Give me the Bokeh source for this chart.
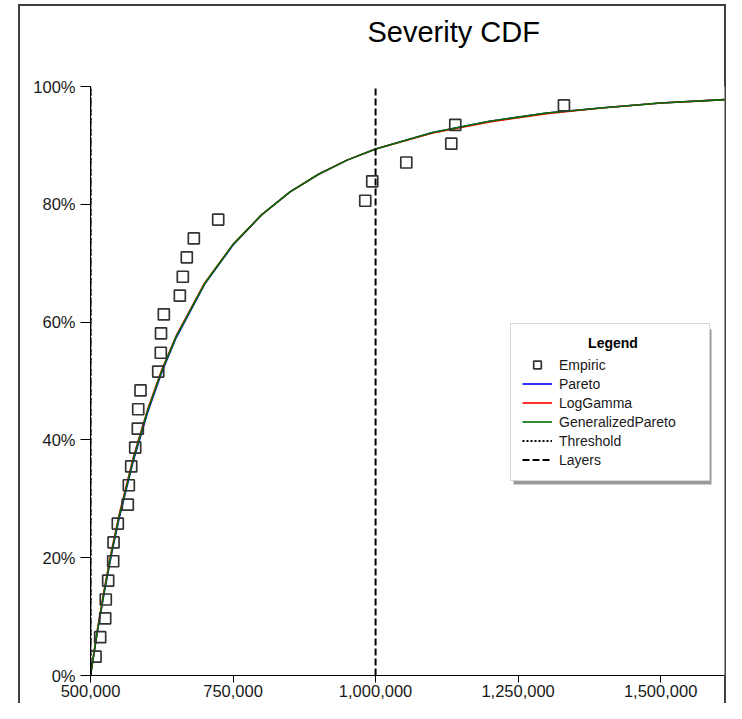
from bokeh.plotting import figure
from bokeh.models import (Range1d, NumeralTickFormatter, FixedTicker, Legend,
                          LegendItem, BoxAnnotation, Title)
from bokeh.embed import file_html
from bokeh.resources import INLINE

# ---------------- data ----------------
title_text = "Severity CDF"
x_ticks = [500000, 750000, 1000000, 1250000, 1500000]
y_ticks = [0.0, 0.2, 0.4, 0.6, 0.8, 1.0]

emp_x = [508800, 517000, 525800, 526800, 531000, 539800, 540400, 547900,
         565400, 567200, 571400, 578400, 583000, 583700, 587700, 618800,
         623300, 623700, 628600, 656700, 661900, 668900, 681200, 724000,
         981900, 994200, 1053900, 1132800, 1139800, 1330400]
emp_pct = [3.2, 6.5, 9.7, 12.9, 16.1, 19.4, 22.6, 25.8, 29.0, 32.3,
           35.5, 38.7, 41.9, 45.2, 48.4, 51.6, 54.8, 58.1, 61.3, 64.5,
           67.7, 71.0, 74.2, 77.4, 80.6, 83.9, 87.1, 90.3, 93.5, 96.8]

curve_x = [500000, 512500, 525000, 537500, 550000, 575000, 600000, 625000,
           650000, 700000, 750000, 800000, 850000, 900000, 950000, 1000000,
           1100000, 1200000, 1300000, 1400000, 1500000, 1640000]
pareto_pct = [0, 7.7, 14.6, 20.9, 26.6, 36.4, 44.6, 51.5, 57.3, 66.4, 73.1,
              78.2, 82.1, 85.1, 87.5, 89.4, 92.2, 94.1, 95.5, 96.4, 97.2, 97.9]
loggamma_pct = [0, 8.0, 15.1, 21.5, 27.2, 37.0, 45.1, 51.9, 57.6, 66.6, 73.2,
                78.2, 82.1, 85.1, 87.5, 89.4, 92.1, 94.0, 95.4, 96.4, 97.2, 97.9]
genpareto_pct = [0, 7.8, 14.8, 21.2, 26.9, 36.7, 44.9, 51.7, 57.5, 66.5, 73.2,
                 78.2, 82.1, 85.1, 87.5, 89.4, 92.2, 94.1, 95.5, 96.4, 97.2, 97.9]

threshold_x = [500000]
layers_x = [500000, 1000000]
cdf_lo, cdf_hi = 0.0, 1.0
x_lo, x_hi = 500000, 1612000

FONT = "Liberation Sans"

# ---------------- geometry (pixels) ----------------
FIG_W, FIG_H = 726, 703
MB_LEFT, MB_RIGHT, MB_TOP, MB_BOTTOM = 90, 2, 86, 28
FRAME_W = FIG_W - MB_LEFT - MB_RIGHT
FRAME_H = FIG_H - MB_TOP - MB_BOTTOM
LEG_X, LEG_Y = 420, 194          # legend bottom-left, relative to frame
LEG_W, LEG_H = 198, 155
SHADOW = 3
BORDER = "#404040"


def frac(lst):
    return [v / 100.0 for v in lst]


p = figure(width=FIG_W, height=FIG_H, output_backend="svg", toolbar_location=None,
           x_range=Range1d(x_lo, x_hi), y_range=Range1d(cdf_lo, cdf_hi),
           min_border_left=MB_LEFT, min_border_top=MB_TOP,
           min_border_bottom=MB_BOTTOM, min_border_right=MB_RIGHT,
           background_fill_color="white", border_fill_color=None,
           outline_line_color=None)
# outer chart frame (left / top / right edges) painted behind the canvas
g = f"linear-gradient({BORDER}, {BORDER})"
p.styles = {
    "background-color": "white",
    "background-image": f"{g}, {g}, {g}",
    "background-size": f"2px 100%, 100% 2px, 2px 100%",
    "background-position": f"18px 4px, 18px 4px, {FIG_W - 2}px 4px",
    "background-repeat": "no-repeat",
}

p.title.text = title_text
p.title.text_font = FONT
p.title.text_font_size = "29px"
p.title.text_font_style = "normal"
p.title.text_color = "#000000"
p.title.align = "left"
p.title.offset = 277
p.title.standoff = 0
# blank title row between the title and the plot area
p.add_layout(Title(text="\u00a0", text_font=FONT, text_font_size="32px",
                   standoff=1), "above")

p.xgrid.visible = False
p.ygrid.visible = False

for ax in (p.xaxis[0], p.yaxis[0]):
    ax.axis_line_color = "black"
    ax.axis_line_width = 1
    ax.major_tick_line_color = "black"
    ax.major_tick_in = 0
    ax.minor_tick_line_color = None
    ax.major_label_text_font = FONT
    ax.major_label_text_font_size = "16.5px"
    ax.major_label_text_color = "#1a1a1a"

p.xaxis[0].ticker = FixedTicker(ticks=x_ticks)
p.xaxis[0].formatter = NumeralTickFormatter(format="0,0")
p.xaxis[0].major_tick_out = 7
p.xaxis[0].major_label_standoff = 2
p.yaxis[0].ticker = FixedTicker(ticks=y_ticks)
p.yaxis[0].formatter = NumeralTickFormatter(format="0%")
p.yaxis[0].major_tick_out = 10
p.yaxis[0].major_label_standoff = 5

# curves
r_par = p.line(curve_x, frac(pareto_pct), line_color="#0000ff", line_width=1.6)
r_lg = p.line(curve_x, frac(loggamma_pct), line_color="#ff0000", line_width=1.6)
r_gp = p.line(curve_x, frac(genpareto_pct), line_color="#007000", line_width=1.6)

# threshold & layers
r_thr = p.segment(x0=threshold_x, y0=[cdf_lo], x1=threshold_x, y1=[cdf_hi],
                  line_color="black", line_width=2, line_dash="2 2")
r_lay = p.segment(x0=layers_x, y0=[cdf_lo] * len(layers_x), x1=layers_x,
                  y1=[cdf_hi] * len(layers_x), line_color="black", line_width=2,
                  line_dash="7 3")

# empiric
r_emp = p.scatter(emp_x, frac(emp_pct), marker="square", size=11,
                  fill_color=None, line_color="#333333", line_width=1.7)

# legend drop shadow (pixel box converted through the axis scales)
dx = (x_hi - x_lo) / FRAME_W
dy = (cdf_hi - cdf_lo) / FRAME_H
p.add_layout(BoxAnnotation(
    left=x_lo + (LEG_X + SHADOW) * dx, right=x_lo + (LEG_X + LEG_W + SHADOW) * dx,
    bottom=cdf_lo + (LEG_Y - SHADOW) * dy, top=cdf_lo + (LEG_Y + LEG_H - SHADOW) * dy,
    fill_color="#9a9a9a", fill_alpha=1, line_color=None))

items = [LegendItem(label="Empiric", renderers=[r_emp]),
         LegendItem(label="Pareto", renderers=[r_par]),
         LegendItem(label="LogGamma", renderers=[r_lg]),
         LegendItem(label="GeneralizedPareto", renderers=[r_gp]),
         LegendItem(label="Threshold", renderers=[r_thr]),
         LegendItem(label="Layers", renderers=[r_lay])]

legend = Legend(items=items, location=(LEG_X, LEG_Y))
legend.label_text_font = FONT
legend.label_text_font_size = "14px"
legend.label_text_color = "#1a1a1a"
legend.glyph_width = 30
legend.glyph_height = 19
legend.label_height = 19
legend.label_width = 139
legend.label_standoff = 7
legend.spacing = 0
legend.padding = 11
legend.margin = 0
legend.title = "\u00a0" * 17 + "Legend"
legend.title_text_font = FONT
legend.title_text_font_size = "14px"
legend.title_text_font_style = "bold"
legend.title_text_color = "#000000"
legend.title_standoff = 4
legend.border_line_color = "#b0b0b0"
legend.border_line_width = 1
legend.background_fill_color = "white"
legend.background_fill_alpha = 1
p.add_layout(legend, "center")

open("out.html", "w").write(file_html(p, INLINE))
